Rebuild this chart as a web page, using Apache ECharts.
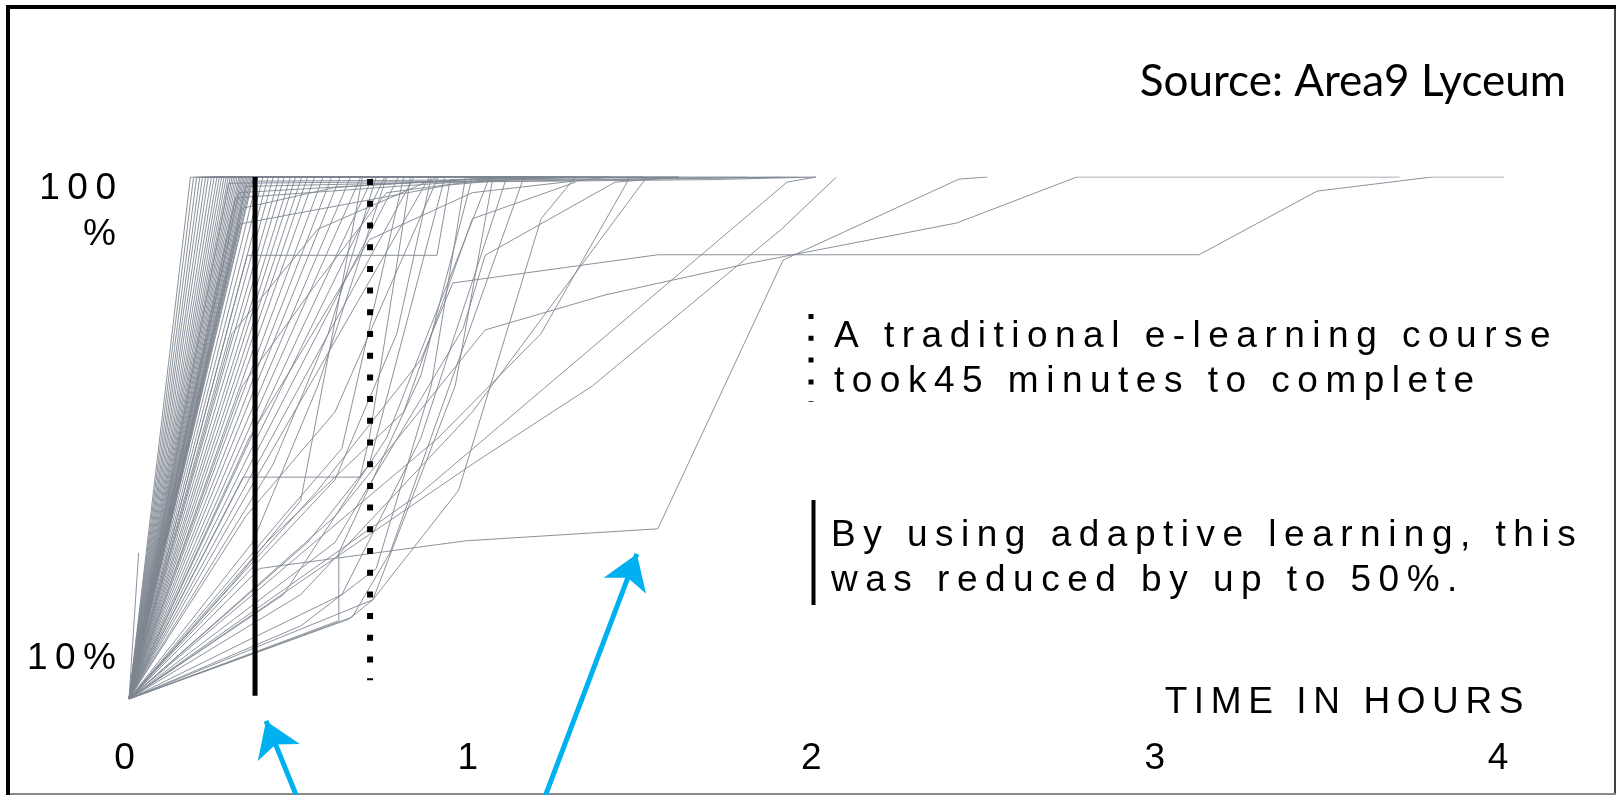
<!DOCTYPE html>
<html>
<head>
<meta charset="utf-8">
<script src="https://cdn.jsdelivr.net/npm/echarts@6/dist/echarts.min.js"></script>
<style>
  html, body { margin: 0; padding: 0; background: #fff; }
  #chart { width: 1616px; height: 795px; }
</style>
</head>
<body>
<div id="chart"></div>
<script>
// x = time in hours, y = percent of course completed

// fast learners: hour at which they reach 100%, and hour where the line stops
var fastTop  = [0.179, 0.188, 0.197, 0.206, 0.214, 0.223, 0.231, 0.24, 0.248, 0.256, 0.263, 0.27, 0.277,
                0.283, 0.289, 0.295, 0.3, 0.305, 0.31, 0.315, 0.32, 0.324, 0.328, 0.332, 0.336, 0.34,
                0.344, 0.348, 0.352, 0.356, 0.36];
var fastHold = [0.6, 0.35, 0.9, 0.4, 1.2, 0.5, 0.8, 1.0, 0.45, 1.5, 0.6, 0.7, 1.1,
                0.4, 0.9, 0.55, 1.8, 0.75, 1.3, 0.5, 0.65, 1.0, 0.85, 1.4, 0.6, 2.0,
                0.7, 0.95, 1.2, 0.8, 1.6];

// learners finishing after the 50% mark
var midTop  = [0.375, 0.39, 0.405, 0.42, 0.437, 0.452, 0.47, 0.485, 0.503, 0.52, 0.54, 0.565, 0.59, 0.615,
               0.645, 0.675, 0.71, 0.745, 0.785, 0.83, 0.875];
var midHold = [0.7, 1.2, 0.6, 0.9, 1.4, 0.8, 1.0, 0.7, 1.6, 0.9, 1.1, 0.8, 1.3, 1.0,
               0.9, 1.5, 1.2, 1.0, 1.4, 1.1, 1.2];

// learners with uneven progress, read point by point
var slowPaths = [
  [[0, 0], [0.65, 15.7], [0.76, 28], [1.15, 100]],
  [[0, 0], [0.611, 15], [0.611, 28], [0.85, 62], [1.0, 100]],
  [[0, 0], [0.64, 15.3], [0.71, 19], [0.95, 60], [1.06, 100]],
  [[0, 0], [0.332, 42.5], [0.673, 42.5], [0.7, 50], [0.82, 100]],
  [[0, 0], [0.344, 85], [0.897, 85], [0.935, 99.5], [1.3, 100]],
  [[0, 0], [0.323, 91], [0.935, 98.5], [1.2, 100]],
  [[0, 0], [0.32, 97], [1.0, 99.6], [1.6, 100]],
  [[0, 0], [0.31, 96], [0.95, 99], [1.3, 100]],
  [[0, 0], [0.33, 94], [0.6, 98], [1.1, 100]],
  [[0, 0], [0.29, 98.8], [1.2, 99.3], [1.95, 100]],
  [[0, 0], [0.34, 98.2], [0.9, 99], [1.7, 99.5], [2.0, 100]],
  [[0, 0], [0.36, 99.2], [1.4, 99.6], [1.9, 100]],
  [[0, 0], [0.36, 30], [0.55, 60], [0.75, 100]],
  [[0, 0], [0.38, 25], [0.98, 30.3], [1.54, 32.6], [1.905, 84.1], [2.417, 99.6], [2.5, 100]],
  [[0, 0], [0.55, 40], [0.85, 65], [0.943, 79.7], [1.54, 85.1], [3.116, 85.1], [3.46, 97.3], [3.794, 100], [4.1, 100]],
  [[0, 0], [0.6, 35], [1.037, 70.7], [1.386, 77.4], [1.808, 83.5], [2.411, 91.2], [2.76, 100], [3.7, 100]],
  [[0, 0], [0.85, 39.5], [1.916, 99], [2.0, 100]],
  [[0, 0], [1.0, 45], [1.35, 60], [1.9, 90], [2.06, 100]],
  [[0, 0], [0.6, 30], [0.973, 71], [1.037, 85], [1.415, 99], [1.6, 100]],
  [[0, 0], [0.9, 50], [1.2, 70], [1.459, 100]],
  [[0, 0], [0.5, 20], [1.0, 55], [1.508, 100]],
  [[0, 0], [0.45, 20], [0.75, 50], [1.05, 100]],
  [[0, 0], [0.34, 35], [0.6, 55], [0.9, 100]],
  [[0, 0], [0.4, 30], [0.8, 55], [1.0, 92], [1.3, 99]],
  [[0, 0], [0.33, 60], [0.55, 80], [0.75, 97], [1.1, 100]],
  [[0, 0], [0.35, 50], [0.7, 88], [1.0, 97], [1.4, 100]],
  [[0, 0], [0.3, 70], [0.55, 90], [0.9, 100]],
  [[0, 0], [0.71, 19], [0.96, 40], [1.2, 92], [1.3, 100]],
  [[0, 0], [0.028, 28]],
  [[0, 0], [0.37, 12], [0.62, 20], [0.85, 50], [1.1, 100]],
  [[0, 0], [0.5, 14], [0.72, 25], [0.88, 60], [0.98, 100]],
  [[0, 0], [0.45, 35], [0.62, 48], [0.8, 100]],
  [[0, 0], [0.52, 30], [0.7, 45], [0.92, 100]],
  [[0, 0], [0.42, 45], [0.58, 70], [0.72, 100]],
  [[0, 0], [0.3, 22], [0.5, 38], [0.68, 100]],
  [[0, 0], [0.6, 42], [0.78, 70], [0.88, 100]]
];

var adaptiveMark = 0.367;     // solid line, ~22 min
var traditionalMark = 0.702;  // dotted line, ~45 min
// arrows [fromX, fromY, toX, toY]
var arrows = [[0.488, -18.6, 0.399, -4.2], [1.212, -18.6, 1.479, 27.8]];

var xTicks = [0, 1, 2, 3, 4];
var yLabels = [[100, '100', '%'], [10, '10%', null]];

var FONT = '"Liberation Sans", Arial, sans-serif';
var GRAY = '#7f8791';
var SP = 7.5;

// wrap each character in a rich token so the text gets letter spacing
function spaced(str, style) {
  return str.split('').map(function (c) { return '{' + style + '|' + c + '}'; }).join('');
}
function tracked(size, lineHeight, sp) {
  return { fontFamily: FONT, fontSize: size, lineHeight: lineHeight, color: '#000', padding: [0, sp == null ? SP : sp, 0, 0] };
}

var paths = [];
fastTop.forEach(function (t, i) { paths.push([[0, 0], [t, 100], [fastHold[i], 100]]); });
midTop.forEach(function (t, i) { paths.push([[0, 0], [t, 100], [midHold[i], 100]]); });
slowPaths.forEach(function (p) { paths.push(p); });

var chart = echarts.init(document.getElementById('chart'));

var graphics = [
  { type: 'line', shape: { x1: 6, y1: 7, x2: 1616, y2: 7 }, style: { stroke: '#000', lineWidth: 4 } },
  { type: 'line', shape: { x1: 8, y1: 5, x2: 8, y2: 795 }, style: { stroke: '#000', lineWidth: 4 } },
  { type: 'line', shape: { x1: 1615, y1: 7, x2: 1615, y2: 795 }, style: { stroke: '#000', lineWidth: 1.5 } },
  { type: 'line', shape: { x1: 10, y1: 794, x2: 1616, y2: 794 }, style: { stroke: '#8a8a8a', lineWidth: 2 } },
  {
    type: 'text', x: 1566, y: 82,
    style: { text: 'Source: Area9 Lyceum', font: '44px Lato, "Open Sans", sans-serif', fill: '#000', align: 'right', verticalAlign: 'middle' }
  },
  {
    type: 'text', x: 834, y: 359,
    style: {
      text: spaced('A traditional e-learning course', 'a') + '\n' + spaced('took45 minutes to complete', 'a'),
      rich: { a: tracked(37, 45) }, align: 'left', verticalAlign: 'middle'
    }
  },
  {
    type: 'text', x: 831, y: 558,
    style: {
      text: spaced('By using adaptive learning, this', 'a') + '\n' + spaced('was reduced by up to 50%.', 'a'),
      rich: { a: tracked(37, 45) }, align: 'left', verticalAlign: 'middle'
    }
  },
  {
    type: 'text', x: 1530, y: 703,
    style: { text: spaced('TIME IN HOURS', 'a'), rich: { a: tracked(37, 45, 6.6) }, align: 'right', verticalAlign: 'middle' }
  },
  { type: 'line', shape: { x1: 811, y1: 314, x2: 811, y2: 402 }, style: { stroke: '#000', lineWidth: 5, lineDash: [5, 16.8] } },
  { type: 'line', shape: { x1: 813.5, y1: 500, x2: 813.5, y2: 605 }, style: { stroke: '#000', lineWidth: 4 } }
];

var option = {
  animation: false,
  backgroundColor: '#fff',
  grid: { left: 129, top: 177, width: 1373.6, height: 626.4, containLabel: false, outerBoundsMode: 'none' },
  xAxis: {
    type: 'value', min: 0, max: 4, interval: 1,
    offset: -104.4,
    axisLine: { show: false, onZero: false },
    axisTick: { show: false },
    splitLine: { show: false },
    axisLabel: {
      fontFamily: FONT, fontSize: 37, color: '#000', margin: 37, lineHeight: 46, padding: [0, 9, 0, 0],
      formatter: function (v) { return xTicks.indexOf(v) >= 0 ? String(v) : ''; }
    }
  },
  yAxis: {
    type: 'value', min: -20, max: 100, interval: 10,
    axisLine: { show: false },
    axisTick: { show: false },
    splitLine: { show: false },
    axisLabel: { show: false }
  },
  series: [
    {
      type: 'lines',
      coordinateSystem: 'cartesian2d',
      polyline: true,
      silent: true,
      lineStyle: { color: GRAY, width: 0.9, opacity: 1 },
      data: paths.map(function (p) { return { coords: p }; }),
      z: 2
    },
    {
      type: 'line',
      silent: true,
      symbol: 'none',
      data: [[adaptiveMark, 100], [adaptiveMark, 0.6]],
      lineStyle: { color: '#000', width: 5 },
      z: 3
    },
    {
      type: 'line',
      silent: true,
      symbol: 'none',
      clip: false,
      data: [[traditionalMark, 99.6], [traditionalMark, 3.6]],
      lineStyle: { color: '#000', width: 6, type: [6, 15.7], cap: 'butt' },
      z: 3,
      markLine: {
        silent: true,
        symbol: ['none', 'arrow'],
        symbolSize: 34,
        label: { show: false },
        lineStyle: { color: '#00b0f0', width: 5, type: 'solid' },
        data: arrows.map(function (a) { return [{ coord: [a[0], a[1]] }, { coord: [a[2], a[3]] }]; })
      }
    }
  ],
  graphic: graphics
};

chart.setOption(option);

// y tick labels, placed beside their tick values (text sits just below the tick, as in the source)
var axisX = chart.convertToPixel({ xAxisIndex: 0 }, 0);
yLabels.forEach(function (l, i) {
  var y = chart.convertToPixel({ yAxisIndex: 0 }, l[0]);
  var text = spaced(l[1], 'a') + (l[2] ? '\n' + spaced(l[2], 'a') : '');
  graphics.push({
    type: 'text', id: 'ylab' + i, x: axisX - 5.5, y: y - 11.5,
    style: { text: text, rich: { a: tracked(37, 46) }, align: 'right', verticalAlign: 'top' }
  });
});
chart.setOption({ graphic: graphics });
</script>
</body>
</html>
